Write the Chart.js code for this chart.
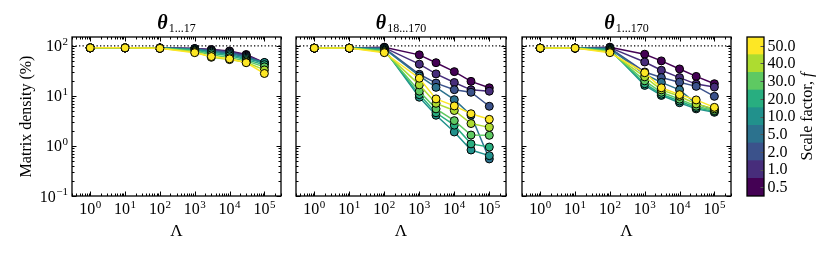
<!DOCTYPE html>
<html>
<head>
<meta charset="utf-8">
<script src="https://cdn.jsdelivr.net/npm/chart.js@4.4.1/dist/chart.umd.min.js"></script>
<style>
  body { margin: 0; background: #fff; width: 830px; height: 253px; overflow: hidden; position: relative; }
  canvas { position: absolute; left: 0; top: 0; }
</style>
</head>
<body>
<canvas id="panel1" width="830" height="253"></canvas>
<canvas id="panel2" width="830" height="253"></canvas>
<canvas id="panel3" width="830" height="253"></canvas>
<canvas id="colorbar" width="830" height="253"></canvas>
<script>
// x values (Lambda) and the scale factors f
const lambdas = [1, 10, 100, 1e3, 3e3, 1e4, 3e4, 1e5];
const scaleFactors = [0.5, 1, 2, 5, 10, 20, 30, 40, 50];
const factorColors = ['#440154', '#472d7b', '#3b528b', '#2c728e', '#21918c', '#28ae80', '#5ec962', '#addc30', '#fde725'];
const fullDensity = 100;
const xRange = [0.3, 3e5];
const yRange = [0.1, 150];

// matrix density (%) one row per scale factor (0.5 ... 50)
const density1to17 = [
    [91, 91, 91, 88, 84, 79, 67, 46],
    [91, 91, 91, 88, 83, 77, 65, 45.5],
    [91, 91, 90, 87, 81, 74, 62, 45],
    [91, 91, 90, 86, 78, 71, 59, 45],
    [91, 91, 90, 84, 75, 67, 56, 46.5],
    [91, 91, 90, 82, 71, 63, 53, 42],
    [91, 91, 89, 79, 66, 58, 50, 38],
    [91, 91, 89, 76, 59, 53, 47, 33],
    [91, 91, 89, 73, 61, 55, 46, 28]
];
const density18to170 = [
    [90, 90, 94, 66, 46, 30.5, 19.5, 14.5],
    [90, 90, 92, 43, 27.5, 18.5, 13.2, 12.4],
    [90, 90, 90, 27, 18, 13.3, 11.8, 6.2],
    [90, 90, 88, 25, 14.8, 8.4, 4.1, 0.55],
    [90, 90, 85, 9.4, 4.1, 1.9, 0.83, 0.64],
    [90, 90, 82, 10.6, 4.6, 2.6, 1.1, 0.95],
    [90, 90, 79, 12.4, 5.5, 3.2, 1.65, 1.63],
    [90, 90, 76, 16.6, 7.1, 5.1, 2.8, 2.35],
    [90, 90, 73, 22.5, 8.7, 6.3, 4.4, 3.4]
];
const density1to170 = [
    [90, 90, 94, 68, 50, 34.5, 24.5, 17.5],
    [90, 90, 92, 47.5, 32.5, 23.2, 17.2, 15],
    [90, 90, 90, 30, 23.2, 18.8, 15.5, 9.8],
    [90, 90, 88, 27, 18.6, 13.2, 7.0, 5.3],
    [90, 90, 85, 16.2, 10.2, 7.3, 5.5, 4.7],
    [90, 90, 82, 17.5, 10.8, 7.9, 5.8, 4.9],
    [90, 90, 79, 20, 11.8, 8.6, 6.2, 5.1],
    [90, 90, 76, 24, 13.2, 9.8, 6.9, 5.5],
    [90, 90, 73, 29, 14.5, 10.6, 8.3, 5.9]
];

const serif = '"Liberation Serif", "DejaVu Serif", serif';

function logTicks(min, max) {
    const major = [], minor = [];
    for (let e = Math.floor(Math.log10(min)); e <= Math.ceil(Math.log10(max)); e++) {
        for (let m = 1; m < 10; m++) {
            const v = m * Math.pow(10, e);
            if (v < min * 0.999 || v > max * 1.001) continue;
            (m === 1 ? major : minor).push(v);
        }
    }
    return { major, minor };
}

function drawPower(ctx, x, y, exp, align) {
    ctx.font = '16px ' + serif;
    const wBase = ctx.measureText('10').width;
    ctx.font = '11px ' + serif;
    const wExp = ctx.measureText(exp).width;
    const total = wBase + wExp + 0.5;
    const x0 = align === 'center' ? x - total / 2 : x - total;
    ctx.textAlign = 'left';
    ctx.textBaseline = 'alphabetic';
    ctx.fillStyle = '#000';
    ctx.font = '16px ' + serif;
    ctx.fillText('10', x0, y);
    ctx.font = '11px ' + serif;
    ctx.fillText(exp, x0 + wBase + 0.5, y - 6.5);
}

const axesFrame = {
    id: 'axesFrame',
    afterDraw(chart, args, opts) {
        const ctx = chart.ctx;
        const a = chart.chartArea;
        const xs = chart.scales.x, ys = chart.scales.y;
        ctx.save();
        ctx.strokeStyle = '#000';
        ctx.lineWidth = 1;
        const xt = logTicks(xRange[0], xRange[1]);
        const yt = logTicks(yRange[0], yRange[1]);
        ctx.beginPath();
        xt.major.concat(xt.minor).forEach(v => {
            const px = Math.round(xs.getPixelForValue(v)) + 0.5;
            const len = xt.major.includes(v) ? 4.5 : 2.5;
            ctx.moveTo(px, a.bottom); ctx.lineTo(px, a.bottom - len);
            ctx.moveTo(px, a.top); ctx.lineTo(px, a.top + len);
        });
        yt.major.concat(yt.minor).forEach(v => {
            const py = Math.round(ys.getPixelForValue(v)) + 0.5;
            const len = yt.major.includes(v) ? 4.5 : 2.5;
            ctx.moveTo(a.left, py); ctx.lineTo(a.left + len, py);
            ctx.moveTo(a.right, py); ctx.lineTo(a.right - len, py);
        });
        ctx.stroke();
        ctx.lineWidth = 1.3;
        ctx.strokeRect(a.left, a.top, a.right - a.left, a.bottom - a.top);

        // tick labels
        xt.major.forEach(v => {
            const e = Math.round(Math.log10(v));
            if (e < 0) return;
            drawPower(ctx, xs.getPixelForValue(v), 214, String(e), 'center');
        });
        if (opts.yLabels) {
            yt.major.forEach(v => {
                const e = Math.round(Math.log10(v));
                drawPower(ctx, a.left - 4, ys.getPixelForValue(v) + 5.5, e < 0 ? '\u2212' + (-e) : String(e), 'right');
            });
            ctx.save();
            ctx.translate(27, (a.top + a.bottom) / 2);
            ctx.rotate(-Math.PI / 2);
            ctx.font = '16px ' + serif;
            ctx.textAlign = 'center';
            ctx.textBaseline = 'middle';
            ctx.fillText('Matrix density (%)', 0, 0);
            ctx.restore();
        }
        // x axis label
        ctx.font = '17px ' + serif;
        ctx.textAlign = 'center';
        ctx.textBaseline = 'alphabetic';
        ctx.fillText('\u039b', (a.left + a.right) / 2, 236);

        // title: bold theta with subscript
        ctx.font = 'italic bold 20px ' + serif;
        const wT = ctx.measureText('\u03b8').width;
        ctx.font = '12px ' + serif;
        const wS = ctx.measureText(opts.sub).width;
        const x0 = (a.left + a.right) / 2 - (wT + wS + 1) / 2;
        ctx.textAlign = 'left';
        ctx.font = 'italic bold 20px ' + serif;
        ctx.fillText('\u03b8', x0, 29);
        ctx.font = '12px ' + serif;
        ctx.fillText(opts.sub, x0 + wT + 1, 32);
        ctx.restore();
    }
};

function makePanel(id, rows, sub, left, right, yLabels) {
    const datasets = rows.map((vals, i) => ({
        data: lambdas.map((x, j) => ({ x: x, y: vals[j] })),
        borderColor: factorColors[i],
        backgroundColor: factorColors[i],
        pointBackgroundColor: factorColors[i],
        pointBorderColor: '#000',
        pointBorderWidth: 1,
        pointRadius: 4,
        borderWidth: 1.5,
        order: rows.length - i
    }));
    datasets.push({
        data: [{ x: xRange[0], y: fullDensity }, { x: xRange[1], y: fullDensity }],
        borderColor: '#000',
        borderWidth: 1.2,
        borderDash: [1.3, 2.2],
        pointRadius: 0,
        order: 100
    });
    return new Chart(document.getElementById(id), {
        type: 'line',
        data: { datasets },
        options: {
            responsive: false,
            animation: false,
            events: [],
            layout: { padding: { left: left, right: 830 - right, top: 37, bottom: 253 - 196 } },
            scales: {
                x: { type: 'logarithmic', min: xRange[0], max: xRange[1], display: false },
                y: { type: 'logarithmic', min: yRange[0], max: yRange[1], display: false }
            },
            plugins: {
                legend: { display: false },
                tooltip: { enabled: false },
                axesFrame: { sub: sub, yLabels: yLabels }
            }
        },
        plugins: [axesFrame]
    });
}

makePanel('panel1', density1to17, '1...17', 72, 281, true);
makePanel('panel2', density18to170, '18...170', 296, 506, false);
makePanel('panel3', density1to170, '1...170', 522, 731, false);

// colorbar, one stacked segment per scale factor
const colorbarFrame = {
    id: 'colorbarFrame',
    afterDraw(chart) {
        const ctx = chart.ctx;
        const a = chart.chartArea;
        const ys = chart.scales.y;
        ctx.save();
        ctx.strokeStyle = '#555';
        ctx.lineWidth = 1;
        ctx.fillStyle = '#000';
        ctx.font = '16px ' + serif;
        ctx.textAlign = 'left';
        ctx.textBaseline = 'middle';
        scaleFactors.forEach((f, i) => {
            const py = ys.getPixelForValue(i + 0.5);
            ctx.beginPath();
            ctx.moveTo(a.right, Math.round(py) + 0.5);
            ctx.lineTo(a.right - 3.5, Math.round(py) + 0.5);
            ctx.stroke();
            ctx.fillText(f.toFixed(1), a.right + 3.5, py + 0.5);
        });
        ctx.strokeStyle = '#000';
        ctx.lineWidth = 1.3;
        ctx.strokeRect(a.left, a.top, a.right - a.left, a.bottom - a.top);

        ctx.translate(808, (a.top + a.bottom) / 2);
        ctx.rotate(-Math.PI / 2);
        ctx.font = '16px ' + serif;
        const w1 = ctx.measureText('Scale factor, ').width;
        ctx.font = 'italic 16px ' + serif;
        const w2 = ctx.measureText('f').width;
        ctx.textBaseline = 'middle';
        ctx.font = '16px ' + serif;
        ctx.fillText('Scale factor, ', -(w1 + w2) / 2, 0);
        ctx.font = 'italic 16px ' + serif;
        ctx.fillText('f', -(w1 + w2) / 2 + w1, 0);
        ctx.restore();
    }
};

new Chart(document.getElementById('colorbar'), {
    type: 'bar',
    data: {
        labels: ['f'],
        datasets: scaleFactors.map((f, i) => ({
            data: [1],
            backgroundColor: factorColors[i],
            borderWidth: 0,
            barPercentage: 1,
            categoryPercentage: 1
        }))
    },
    options: {
        responsive: false,
        animation: false,
        events: [],
        layout: { padding: { left: 747, right: 830 - 764, top: 37, bottom: 253 - 196 } },
        scales: {
            x: { stacked: true, display: false },
            y: { stacked: true, min: 0, max: scaleFactors.length, display: false }
        },
        plugins: { legend: { display: false }, tooltip: { enabled: false } }
    },
    plugins: [colorbarFrame]
});
</script>
</body>
</html>
